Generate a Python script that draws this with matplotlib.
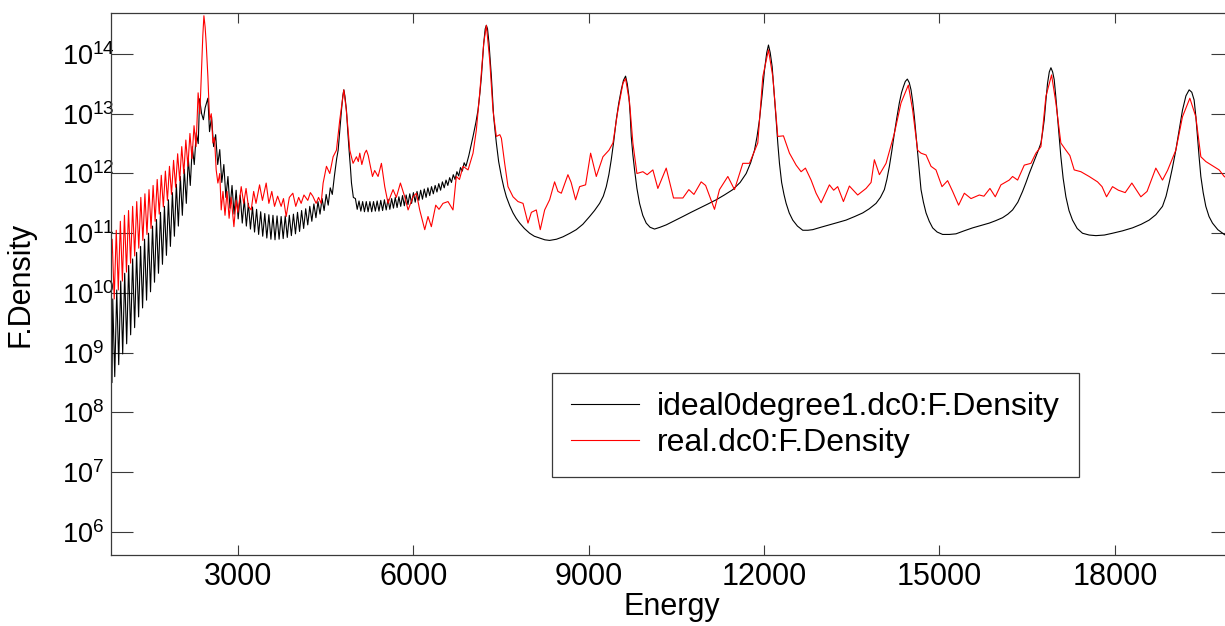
import numpy as np
import matplotlib
matplotlib.use("Agg")
import matplotlib.pyplot as plt
from matplotlib.ticker import FixedLocator, FuncFormatter, NullLocator

# ---------------- data (energy, log10 F.Density) ----------------
ideal_low = [
    (830, 9.6), (847, 8.5), (860, 9.9), (894, 8.6), (928, 10.05), (962, 8.8), (996, 10.2),
    (1030, 8.98), (1064, 10.33), (1098, 9.15), (1132, 10.46), (1166, 9.3), (1200, 10.57),
    (1234, 9.42), (1268, 10.68), (1302, 9.6), (1336, 10.78), (1370, 9.75), (1404, 10.9),
    (1438, 9.88), (1472, 11.0), (1506, 10.02), (1540, 11.12), (1574, 10.18), (1608, 11.23),
    (1642, 10.33), (1676, 11.35), (1710, 10.48), (1744, 11.45), (1778, 10.63), (1812, 11.56),
    (1846, 10.78), (1880, 11.68), (1914, 10.95), (1948, 11.82), (1982, 11.12), (2016, 11.95),
    (2050, 11.3), (2084, 12.07), (2118, 11.5), (2152, 12.25), (2186, 11.8), (2220, 12.45),
    (2254, 12.15), (2288, 12.68), (2322, 12.5), (2345, 13.25), (2380, 13.0), (2410, 12.9),
    (2440, 13.1), (2487, 13.26),
]
ideal_mid = [
    (2515, 12.7), (2550, 12.95), (2585, 12.45), (2620, 12.65), (2655, 12.15), (2690, 12.4),
    (2725, 11.85), (2760, 12.15), (2795, 11.6), (2830, 11.95), (2865, 11.42), (2900, 11.8),
    (2935, 11.32), (2970, 11.72), (3005, 11.24), (3040, 11.64), (3075, 11.17), (3110, 11.57),
    (3145, 11.12), (3180, 11.5), (3215, 11.07), (3250, 11.44), (3285, 11.02), (3320, 11.4),
    (3355, 10.98), (3390, 11.36), (3425, 10.95), (3460, 11.33), (3495, 10.92), (3530, 11.31),
    (3565, 10.9), (3600, 11.3), (3635, 10.89), (3670, 11.29), (3705, 10.9), (3740, 11.28),
    (3775, 10.91), (3810, 11.29), (3845, 10.93), (3880, 11.3), (3915, 10.96), (3950, 11.32),
    (3985, 10.99), (4020, 11.35), (4055, 11.03), (4090, 11.38), (4125, 11.08), (4160, 11.41),
    (4195, 11.14), (4230, 11.45), (4265, 11.2), (4300, 11.49), (4335, 11.26), (4370, 11.53),
    (4405, 11.32), (4440, 11.58), (4475, 11.38), (4510, 11.65), (4545, 11.47), (4580, 11.76),
    (4615, 11.65), (4650, 11.95), (4690, 12.25), (4715, 12.39), (4745, 12.75), (4772, 13.06),
    (4795, 13.3), (4812, 13.4), (4830, 13.3), (4857, 13.06), (4880, 12.7), (4902, 12.39),
    (4925, 12.1), (4943, 11.84), (4975, 11.6),
]
ideal_ripple = [
    (5010, 11.58), (5041, 11.4), (5072, 11.54), (5103, 11.37), (5134, 11.53), (5165, 11.36),
    (5196, 11.53), (5227, 11.36), (5258, 11.53), (5289, 11.36), (5320, 11.53), (5351, 11.37),
    (5382, 11.54), (5413, 11.37), (5444, 11.55), (5475, 11.38), (5506, 11.56), (5537, 11.39),
    (5568, 11.57), (5599, 11.4), (5630, 11.58), (5661, 11.42), (5692, 11.6), (5723, 11.43),
    (5754, 11.61), (5785, 11.45), (5816, 11.63), (5847, 11.46), (5878, 11.64), (5909, 11.48),
    (5940, 11.66), (5971, 11.5), (6002, 11.68), (6033, 11.52), (6064, 11.7), (6095, 11.55),
    (6126, 11.72), (6157, 11.57), (6188, 11.74), (6219, 11.6), (6250, 11.76), (6281, 11.63),
    (6312, 11.78), (6343, 11.66), (6374, 11.8), (6405, 11.69), (6436, 11.83), (6467, 11.72),
    (6498, 11.86), (6529, 11.76), (6560, 11.89), (6591, 11.8), (6622, 11.93), (6653, 11.85),
    (6684, 11.98), (6715, 11.9), (6746, 12.03), (6777, 11.96), (6808, 12.1), (6839, 12.04),
    (6870, 12.18), (6901, 12.12),
]
ideal_high = [
    (6950, 12.3), (7022, 12.62), (7070, 12.85), (7107, 13.06), (7140, 13.35), (7165, 13.62),
    (7185, 13.9), (7205, 14.18), (7230, 14.42), (7250, 14.48), (7270, 14.42), (7295, 14.18),
    (7315, 13.9), (7336, 13.62), (7355, 13.3), (7375, 12.95), (7400, 12.7), (7421, 12.51),
    (7460, 12.2), (7507, 11.95), (7550, 11.76), (7592, 11.61), (7650, 11.46), (7706, 11.34),
    (7760, 11.25), (7820, 11.17), (7900, 11.08), (7990, 11.0), (8070, 10.95), (8161, 10.92),
    (8250, 10.89), (8332, 10.88), (8450, 10.9), (8560, 10.94), (8680, 11.0), (8788, 11.06),
    (8900, 11.15), (9016, 11.28), (9100, 11.38), (9187, 11.5), (9250, 11.62), (9301, 11.78),
    (9345, 11.98), (9386, 12.23), (9430, 12.55), (9472, 12.9), (9515, 13.18), (9557, 13.4),
    (9595, 13.56), (9631, 13.63), (9660, 13.5), (9688, 13.29), (9710, 12.98), (9728, 12.62),
    (9755, 12.32), (9785, 12.06), (9825, 11.75), (9870, 11.5), (9925, 11.3), (9984, 11.17),
    (10050, 11.1), (10126, 11.07), (10220, 11.1), (10326, 11.14), (10470, 11.21), (10611, 11.28),
    (10750, 11.35), (10896, 11.42), (11040, 11.49), (11181, 11.56), (11320, 11.64), (11465, 11.73),
    (11590, 11.85), (11694, 12.0), (11770, 12.18), (11836, 12.39), (11880, 12.62), (11921, 12.9),
    (11965, 13.3), (12007, 13.73), (12045, 14.02), (12075, 14.15), (12105, 14.02), (12138, 13.79),
    (12172, 13.35), (12206, 12.9), (12235, 12.5), (12263, 12.17), (12300, 11.85), (12340, 11.65),
    (12377, 11.5), (12430, 11.34), (12490, 11.22), (12570, 11.12), (12661, 11.05), (12750, 11.05),
    (12832, 11.06), (12970, 11.1), (13117, 11.14), (13260, 11.18), (13402, 11.22), (13550, 11.28),
    (13687, 11.34), (13800, 11.41), (13915, 11.5), (13990, 11.6), (14057, 11.73), (14100, 11.9),
    (14143, 12.12), (14185, 12.38), (14228, 12.67), (14270, 12.93), (14313, 13.18), (14350, 13.35),
    (14382, 13.45), (14415, 13.54), (14450, 13.58), (14483, 13.52), (14513, 13.4), (14542, 13.2),
    (14570, 12.95), (14598, 12.65), (14626, 12.34), (14655, 12.02), (14684, 11.73), (14725, 11.52),
    (14770, 11.34), (14825, 11.2), (14883, 11.09), (14960, 11.02), (15054, 10.98), (15170, 10.98),
    (15282, 10.99), (15420, 11.04), (15567, 11.09), (15710, 11.13), (15852, 11.17), (15960, 11.21),
    (16079, 11.26), (16170, 11.32), (16250, 11.39), (16340, 11.52), (16421, 11.7), (16480, 11.85),
    (16535, 12.0), (16595, 12.15), (16649, 12.28), (16695, 12.4), (16735, 12.51), (16765, 12.7),
    (16792, 12.9), (16820, 13.22), (16848, 13.51), (16878, 13.7), (16906, 13.77), (16935, 13.7),
    (16962, 13.57), (16990, 13.28), (17019, 12.95), (17048, 12.6), (17076, 12.28), (17115, 11.92),
    (17162, 11.61), (17215, 11.38), (17275, 11.22), (17355, 11.08), (17446, 11.0), (17560, 10.97),
    (17675, 10.96), (17820, 10.97), (17959, 11.0), (18130, 11.04), (18301, 11.09), (18450, 11.15),
    (18586, 11.22), (18700, 11.31), (18814, 11.45), (18875, 11.62), (18928, 11.84), (18985, 12.1),
    (19042, 12.39), (19100, 12.73), (19156, 13.06), (19215, 13.3), (19270, 13.4), (19315, 13.36),
    (19355, 13.23), (19385, 12.95), (19412, 12.62), (19440, 12.28), (19470, 11.95), (19510, 11.68),
    (19555, 11.45), (19610, 11.28), (19669, 11.17), (19760, 11.06), (19870, 10.98), (20020, 10.9),
]

real_low = [
    (830, 10.5), (850, 10.9), (885, 9.9), (920, 11.05), (955, 10.05), (990, 11.2), (1025, 10.2),
    (1060, 11.3), (1095, 10.35), (1130, 11.38), (1165, 10.5), (1200, 11.45), (1235, 10.62),
    (1270, 11.53), (1305, 10.75), (1340, 11.6), (1375, 10.88), (1410, 11.66), (1445, 10.98),
    (1480, 11.73), (1515, 11.08), (1550, 11.8), (1585, 11.2), (1620, 11.9), (1655, 11.32),
    (1690, 11.97), (1725, 11.44), (1760, 12.04), (1795, 11.55), (1830, 12.12), (1865, 11.65),
    (1900, 12.22), (1935, 11.77), (1970, 12.33), (2005, 11.88), (2040, 12.45), (2075, 12.0),
    (2110, 12.56), (2145, 12.12), (2180, 12.67), (2215, 12.25), (2250, 12.8), (2285, 12.45),
    (2320, 13.35), (2350, 13.0), (2380, 13.8), (2400, 14.3), (2419, 14.64), (2440, 14.45),
    (2458, 14.18), (2487, 13.62), (2516, 12.9), (2545, 13.0), (2573, 12.51), (2600, 12.6),
    (2629, 12.06), (2658, 11.84), (2690, 12.0), (2715, 11.39), (2745, 11.7), (2780, 11.3),
    (2815, 11.7), (2850, 11.25), (2885, 11.6), (2932, 11.11), (2970, 11.55), (3000, 11.35),
    (3057, 11.78), (3100, 11.5), (3140, 11.75), (3180, 11.45), (3228, 11.39), (3270, 11.7),
    (3310, 11.5), (3371, 11.81), (3420, 11.55), (3484, 11.84), (3530, 11.5), (3580, 11.7),
    (3627, 11.45), (3680, 11.62), (3740, 11.45), (3780, 11.58), (3826, 11.28), (3880, 11.6),
    (3940, 11.67), (3990, 11.45), (4040, 11.6), (4082, 11.5), (4130, 11.64), (4196, 11.55),
    (4240, 11.68), (4282, 11.62), (4338, 11.5), (4380, 11.6), (4424, 11.5), (4458, 11.84),
    (4515, 12.12), (4572, 12.0), (4629, 12.28), (4686, 12.39), (4743, 12.9), (4812, 13.4),
    (4850, 13.1), (4885, 12.73), (4914, 12.39), (4970, 12.17),
]
real_high = [
    (5028, 12.28), (5060, 12.2), (5085, 12.34), (5120, 12.15), (5170, 12.34), (5199, 12.39),
    (5230, 12.3), (5256, 12.17), (5302, 11.95), (5340, 12.05), (5398, 11.95), (5455, 12.17),
    (5512, 11.78), (5569, 11.5), (5610, 11.62), (5654, 11.73), (5710, 11.6), (5780, 11.84),
    (5854, 11.61), (5911, 11.39), (5996, 11.61), (6053, 11.67), (6110, 11.39), (6196, 11.06),
    (6252, 11.28), (6309, 11.11), (6384, 11.47), (6440, 11.4), (6508, 11.5), (6594, 11.53),
    (6679, 11.39), (6736, 11.95), (6790, 11.9), (6851, 12.12), (6937, 12.06), (7022, 12.34),
    (7079, 12.73), (7136, 13.34), (7205, 14.18), (7250, 14.48), (7307, 13.9), (7363, 13.06),
    (7421, 12.62), (7480, 12.65), (7507, 12.59), (7563, 12.17), (7620, 11.78), (7706, 11.61),
    (7791, 11.53), (7877, 11.5), (7962, 11.17), (8020, 11.35), (8104, 11.39), (8172, 11.06),
    (8247, 11.39), (8332, 11.56), (8417, 11.86), (8474, 11.7), (8532, 11.67), (8645, 11.98),
    (8700, 11.85), (8776, 11.56), (8845, 11.78), (8947, 11.81), (9033, 12.34), (9130, 11.95),
    (9244, 12.28), (9347, 12.39), (9415, 12.51), (9500, 13.06), (9586, 13.51), (9631, 13.59),
    (9700, 13.18), (9756, 12.51), (9825, 12.0), (9927, 12.03), (10000, 11.98), (10098, 12.06),
    (10183, 11.75), (10326, 12.09), (10451, 11.59), (10611, 11.59), (10713, 11.73), (10800, 11.65),
    (10924, 11.86), (11000, 11.8), (11152, 11.4), (11237, 11.73), (11380, 11.95), (11494, 11.73),
    (11636, 12.17), (11750, 12.17), (11892, 12.51), (11978, 13.62), (12075, 14.07), (12149, 13.62),
    (12234, 12.62), (12331, 12.63), (12434, 12.34), (12548, 12.14), (12633, 12.03), (12707, 12.09),
    (12804, 11.89), (12889, 11.67), (12975, 11.51), (13117, 11.81), (13190, 11.72), (13259, 11.78),
    (13357, 11.53), (13459, 11.79), (13601, 11.64), (13744, 11.75), (13830, 11.85), (13886, 12.23),
    (13972, 11.98), (14086, 12.17), (14228, 12.67), (14342, 13.18), (14467, 13.48), (14541, 13.06),
    (14626, 12.39), (14684, 12.34), (14770, 12.31), (14855, 12.12), (14940, 12.06), (15043, 11.78),
    (15139, 11.88), (15225, 11.7), (15327, 11.47), (15425, 11.67), (15539, 11.58), (15681, 11.64),
    (15760, 11.62), (15863, 11.75), (15954, 11.61), (16051, 11.81), (16193, 11.89), (16250, 11.95),
    (16336, 11.89), (16450, 12.14), (16564, 12.17), (16649, 12.34), (16735, 12.45), (16820, 13.29),
    (16917, 13.65), (16991, 13.18), (17076, 12.51), (17162, 12.39), (17230, 12.3), (17304, 12.06),
    (17418, 12.03), (17560, 11.95), (17703, 11.86), (17780, 11.78), (17857, 11.61), (17959, 11.78),
    (18060, 11.72), (18176, 11.68), (18290, 11.84), (18444, 11.61), (18550, 11.7), (18700, 12.09),
    (18814, 11.89), (18900, 12.05), (19042, 12.39), (19156, 12.95), (19282, 13.26), (19384, 12.95),
    (19470, 12.28), (19555, 12.2), (19669, 12.13), (19783, 12.06), (19870, 11.95), (20020, 11.85),
]

series_labels = ["ideal0degree1.dc0:F.Density", "real.dc0:F.Density"]
x_ticks = [3000, 6000, 9000, 12000, 15000, 18000]
y_tick_exponents = [6, 7, 8, 9, 10, 11, 12, 13, 14]

# ---------------- style ----------------
plt.rcParams["font.family"] = ["Liberation Sans", "DejaVu Sans"]
plt.rcParams["mathtext.fontset"] = "custom"
plt.rcParams["mathtext.rm"] = "Liberation Sans"
plt.rcParams["mathtext.it"] = "Liberation Sans:italic"
plt.rcParams["mathtext.bf"] = "Liberation Sans:bold"

W, H = 1225, 626
fig = plt.figure(figsize=(W / 100, H / 100), dpi=100)
ax = fig.add_axes([111 / W, 1 - 555 / H, (1233 - 111) / W, (555 - 13) / H])

ideal = np.array(ideal_low + ideal_mid + ideal_ripple + ideal_high, dtype=float)
real = np.array(real_low + real_high, dtype=float)

ax.plot(ideal[:, 0], 10 ** ideal[:, 1], color="black", lw=0.8, label=series_labels[0])
ax.plot(real[:, 0], 10 ** real[:, 1], color="#ff0000", lw=0.8, label=series_labels[1])

ax.set_yscale("log")
ax.set_xlim(830, 20020)
ax.set_ylim(10 ** 5.615, 10 ** 14.686)

ax.xaxis.set_major_locator(FixedLocator(x_ticks))
ax.xaxis.set_minor_locator(NullLocator())
ax.yaxis.set_major_locator(FixedLocator([10.0 ** e for e in y_tick_exponents]))
ax.yaxis.set_minor_locator(NullLocator())
ax.yaxis.set_major_formatter(
    FuncFormatter(lambda v, p: r"$\mathregular{10^{%d}}$" % int(round(np.log10(v))))
)
ax.xaxis.set_major_formatter(FuncFormatter(lambda v, p: "%d" % v))

spine_col = "#3a3a3a"
for s in ax.spines.values():
    s.set_color(spine_col)
    s.set_linewidth(0.9)

# y tick labels are left-aligned, starting ~49 px left of the axis
ax.tick_params(axis="y", which="major", direction="in", length=16, width=0.8,
               color=spine_col, left=True, right=True, labelsize=19.5, pad=35.5)
ax.tick_params(axis="x", which="major", direction="in", length=7.5, width=0.8,
               color=spine_col, bottom=True, top=True, labelsize=22, pad=5)
for t in ax.yaxis.get_majorticklabels():
    t.set_horizontalalignment("left")

ax.set_xlabel("Energy", fontsize=22, labelpad=0)
ax.set_ylabel("F.Density", fontsize=22)
ax.yaxis.set_label_coords((36 - 111) / 1122, 0.5)

leg = ax.legend(loc="upper left", bbox_to_anchor=(552 / W, 1 - 373 / H),
                bbox_transform=fig.transFigure, frameon=True, fancybox=False,
                edgecolor=spine_col, framealpha=1, fontsize=23, handlelength=2.13,
                handletextpad=0.56, borderpad=0.6, labelspacing=0.18, borderaxespad=0)
leg.get_frame().set_linewidth(0.9)

fig.savefig("out.png", dpi=100)
